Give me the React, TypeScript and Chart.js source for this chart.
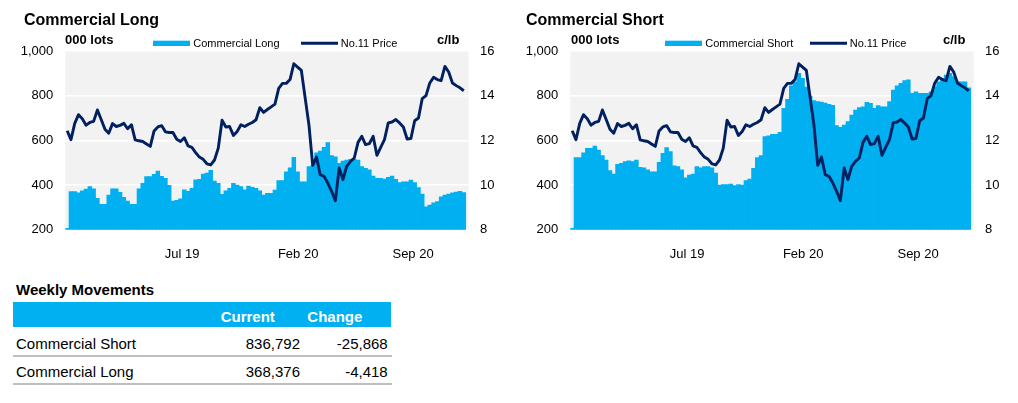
import React, { useEffect, useRef } from "react";
import { Chart, registerables } from "chart.js";

Chart.register(...registerables);

const FONT = '"Liberation Sans", Arial, Helvetica, sans-serif';
const BAR = "#00B0F0";
const LINE = "#002060";

// weekly observations starting from this date
const firstWeek = "2018-11-30";
const tickDates = ["2019-07-01", "2020-02-01", "2020-09-01"];
const tickLabels = ["Jul 19", "Feb 20", "Sep 20"];

// No.11 price, c/lb
const price = [
  12.43, 12.03, 12.76, 13.15, 12.97, 12.68, 12.8, 12.85, 13.36, 12.93,
  12.5, 12.32, 12.75, 12.62, 12.67, 12.76, 12.52, 12.7, 12.02, 11.98,
  11.95, 11.84, 11.73, 12.42, 12.6, 12.66, 12.38, 12.35, 12.35, 12.05,
  11.95, 12.12, 11.75, 11.69, 11.45, 11.25, 11.15, 10.95, 10.9, 11.12,
  11.65, 12.9, 12.6, 12.62, 12.22, 12.4, 12.7, 12.62, 12.72, 12.8,
  12.92, 13.46, 13.25, 13.38, 13.5, 13.62, 14.33, 14.55, 14.55, 14.72,
  15.43, 15.28, 15.13, 13.9, 12.7, 10.88, 11.25, 10.46, 10.39, 10.09,
  9.72, 9.3, 10.76, 10.24, 10.84, 11.06, 11.21, 11.91, 12.18, 11.81,
  11.85, 12.18, 11.33, 11.69, 12.03, 12.78, 12.82, 12.93, 12.78, 12.6,
  12.06, 12.08, 12.88, 13.0, 13.87, 14.0, 14.57, 14.82, 14.72, 14.67,
  15.31, 15.06, 14.57, 14.45, 14.35, 14.22,
];

// Commercial long, 000 lots
const commercialLong = [
  208, 372, 372, 367, 376, 383, 394, 384, 342, 315,
  315, 357, 384, 384, 369, 346, 330, 315, 315, 384,
  409, 439, 439, 449, 464, 440, 432, 400, 330, 333,
  340, 380, 373, 387, 425, 427, 450, 455, 467, 419,
  409, 360, 375, 387, 409, 401, 394, 380, 397, 391,
  387, 376, 357, 364, 364, 379, 421, 421, 461, 479,
  525, 461, 416, 416, 484, 488, 546, 554, 570, 591,
  533, 528, 499, 509, 513, 516, 516, 513, 484, 476,
  470, 442, 431, 431, 428, 436, 442, 427, 412, 416,
  416, 424, 412, 390, 361, 304, 312, 322, 327, 349,
  357, 361, 367, 370, 373, 368,
];

// Commercial short, 000 lots
const commercialShort = [
  208, 524, 524, 546, 566, 566, 576, 558, 533, 513,
  466, 451, 494, 499, 506, 510, 506, 513, 481, 479,
  469, 461, 461, 503, 543, 569, 551, 487, 484, 469,
  434, 446, 451, 484, 478, 484, 484, 478, 455, 401,
  404, 404, 406, 399, 404, 401, 421, 428, 476, 524,
  533, 618, 622, 628, 628, 637, 745, 785, 845, 864,
  901, 879, 840, 800, 780, 775, 773, 768, 763, 758,
  668, 660, 670, 685, 715, 737, 748, 752, 772, 767,
  745, 757, 752, 752, 775, 827, 845, 857, 869, 872,
  812, 819, 812, 812, 812, 819, 842, 864, 879, 894,
  901, 887, 864, 864, 863, 837,
];

const tableNames = ["Commercial Short", "Commercial Long"];
const tableCurrent = ["836,792", "368,376"];
const tableChange = ["-25,868", "-4,418"];

const WEEK = 7 * 86400000;
const t0 = Date.parse(firstWeek + "T00:00:00Z");
const weekLabels = price.map((_, i) =>
  new Date(t0 + i * WEEK).toISOString().slice(0, 10)
);
const tickPositions = tickDates.map(
  (d) => (Date.parse(d + "T00:00:00Z") - t0) / WEEK
);

type PanelCfg = {
  title: string;
  seriesLabel: string;
  values: number[];
  left: number;
  titleX: number;
  unitX: number;
  boxX: number;
  lineX: number;
  rUnitX: number;
};

const CANVAS_W = 505;
const CANVAS_H = 262;

function ChartPanel(props: PanelCfg) {
  const ref = useRef<HTMLCanvasElement | null>(null);
  useEffect(() => {
    if (!ref.current) return;
    const cfg = props;
    const decor = {
      id: "decor",
      beforeDraw(chart: any) {
        const { ctx, chartArea: a } = chart;
        ctx.save();
        ctx.fillStyle = "#F2F2F2";
        ctx.fillRect(a.left, a.top, a.right - a.left, a.bottom - a.top);
        ctx.restore();
      },
      afterDraw(chart: any) {
        const ctx = chart.ctx;
        ctx.save();
        ctx.textBaseline = "alphabetic";
        ctx.textAlign = "left";
        ctx.fillStyle = "#000";
        ctx.font = `bold 16px ${FONT}`;
        ctx.fillText(cfg.title, cfg.titleX, 24.5);
        ctx.font = `bold 13px ${FONT}`;
        ctx.fillText("000 lots", cfg.unitX, 44.4);
        ctx.fillText("c/lb", cfg.rUnitX, 44.4);
        ctx.fillStyle = BAR;
        ctx.fillRect(cfg.boxX, 40.7, 37, 5.3);
        ctx.fillStyle = "#000";
        ctx.font = `11px ${FONT}`;
        ctx.fillText(cfg.seriesLabel, cfg.boxX + 40.3, 46.6);
        ctx.strokeStyle = LINE;
        ctx.lineWidth = 2.9;
        ctx.beginPath();
        ctx.moveTo(cfg.lineX, 43.3);
        ctx.lineTo(cfg.lineX + 37, 43.3);
        ctx.stroke();
        ctx.fillText("No.11 Price", cfg.lineX + 39.7, 46.6);
        ctx.restore();
      },
    };
    const chart = new Chart(ref.current, {
      type: "bar",
      data: {
        labels: weekLabels,
        datasets: [
          {
            type: "line",
            label: "No.11 Price",
            data: price.map((v, i) => ({ x: i, y: v })),
            yAxisID: "y1",
            borderColor: LINE,
            backgroundColor: LINE,
            borderWidth: 2.9,
            borderJoinStyle: "round",
            pointRadius: 0,
            tension: 0,
            order: 0,
          } as any,
          {
            type: "bar",
            label: cfg.seriesLabel,
            data: cfg.values.map((v, i) => ({ x: i, y: v })),
            yAxisID: "y",
            backgroundColor: BAR,
            borderColor: BAR,
            borderWidth: 0,
            barThickness: 4.5,
            inflateAmount: 0,
            order: 1,
          } as any,
        ],
      },
      options: {
        animation: false,
        responsive: false,
        devicePixelRatio: 1,
        layout: { padding: { top: 51, left: 0, right: 0, bottom: 0 } },
        plugins: {
          legend: { display: false },
          tooltip: { enabled: false },
          title: { display: false },
        },
        scales: {
          x: {
            type: "linear",
            offset: false,
            bounds: "data",
            min: -0.5,
            max: 106.3,
            grid: { display: false, offset: false },
            border: { display: false },
            afterBuildTicks: (scale: any) => {
              scale.ticks = tickPositions.map((v) => ({ value: v }));
            },
            afterFit: (scale: any) => {
              scale.height = CANVAS_H - 229.7;
            },
            ticks: {
              autoSkip: false,
              maxRotation: 0,
              padding: 8.5,
              color: "#000",
              font: { family: FONT, size: 13 },
              callback: (_v: any, idx: number) => tickLabels[idx],
            },
          },
          y: {
            position: "left",
            min: 200,
            max: 1000,
            grid: { color: "#FFFFFF", lineWidth: 1.5, drawTicks: false },
            border: { display: false },
            afterFit: (scale: any) => {
              scale.width = 65.3;
            },
            ticks: {
              stepSize: 200,
              padding: 12,
              color: "#000",
              font: { family: FONT, size: 13 },
              callback: (v: any) => Number(v).toLocaleString("en-US"),
            },
          },
          y1: {
            position: "right",
            min: 8,
            max: 16,
            grid: { display: false, drawTicks: false },
            border: { display: false },
            afterFit: (scale: any) => {
              scale.width = CANVAS_W - 468.7;
            },
            ticks: {
              stepSize: 2,
              padding: 11.3,
              color: "#000",
              font: { family: FONT, size: 13 },
            },
          },
        },
      } as any,
      plugins: [decor],
    });
    return () => chart.destroy();
  }, []);
  return (
    <canvas
      ref={ref}
      width={CANVAS_W}
      height={CANVAS_H}
      style={{
        position: "absolute",
        left: props.left,
        top: 0,
        width: CANVAS_W,
        height: CANVAS_H,
      }}
    />
  );
}

const txt = (extra: React.CSSProperties): React.CSSProperties => ({
  position: "absolute",
  fontFamily: FONT,
  fontSize: 15,
  lineHeight: "15px",
  whiteSpace: "nowrap",
  color: "#000",
  ...extra,
});

export default function App() {
  return (
    <div
      style={{
        position: "absolute",
        left: 0,
        top: 0,
        width: 1018,
        height: 403,
        background: "#fff",
        overflow: "hidden",
      }}
    >
      <ChartPanel
        title="Commercial Long"
        seriesLabel="Commercial Long"
        values={commercialLong}
        left={0}
        titleX={24}
        unitX={65}
        boxX={153}
        lineX={301}
        rUnitX={437}
      />
      <ChartPanel
        title="Commercial Short"
        seriesLabel="Commercial Short"
        values={commercialShort}
        left={505}
        titleX={21}
        unitX={66}
        boxX={160}
        lineX={305}
        rUnitX={438}
      />
      <div style={txt({ left: 16, top: 282.3, fontWeight: "bold" })}>
        Weekly Movements
      </div>
      <div
        style={{
          position: "absolute",
          left: 13.3,
          top: 301.7,
          width: 377.4,
          height: 25.6,
          background: BAR,
        }}
      />
      <div style={txt({ left: 220.7, top: 309, fontWeight: "bold", color: "#fff" })}>
        Current
      </div>
      <div style={txt({ left: 307.3, top: 309, fontWeight: "bold", color: "#fff" })}>
        Change
      </div>
      {tableNames.map((name, r) => {
        const base = r === 0 ? 348.5 : 377;
        const sep = r === 0 ? 355 : 382.7;
        return (
          <React.Fragment key={name}>
            <div style={txt({ left: 16, top: base - 12.7 })}>{name}</div>
            <div style={txt({ left: 200, width: 100, top: base - 12.7, textAlign: "right" })}>
              {tableCurrent[r]}
            </div>
            <div style={txt({ left: 287.7, width: 100, top: base - 12.7, textAlign: "right" })}>
              {tableChange[r]}
            </div>
            <div
              style={{
                position: "absolute",
                left: 13.3,
                top: sep,
                width: 378.4,
                height: 2.3,
                background: "#BFBFBF",
              }}
            />
          </React.Fragment>
        );
      })}
    </div>
  );
}
